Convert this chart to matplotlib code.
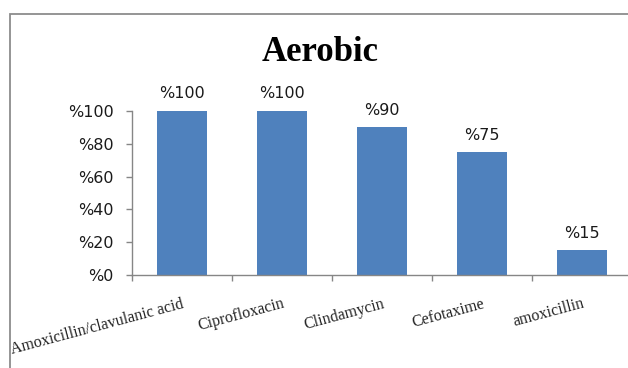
import matplotlib
matplotlib.use('Agg')
import matplotlib.pyplot as plt
from matplotlib.patches import Rectangle

# Aerobic sensitivity per antibiotic (%)
drugs = ['Amoxicillin/clavulanic acid', 'Ciprofloxacin', 'Clindamycin', 'Cefotaxime', 'amoxicillin']
percent = [100, 100, 90, 75, 15]
y_ticks = [0, 20, 40, 60, 80, 100]

BAR_COLOR = '#4F81BD'
AXIS_COLOR = '#868686'

fig = plt.figure(figsize=(6.28, 3.68), dpi=100)

# Outer chart frame (runs off the right and bottom edges)
fig.patches.append(Rectangle((9.5 / 628, -0.1), 1.2, (368 - 14) / 368 + 0.1,
                             transform=fig.transFigure, fill=False,
                             edgecolor='#8c8c8c', linewidth=1.3))

ax = fig.add_axes([131.7 / 628, 93 / 368, 500 / 628, 164 / 368])

x = list(range(len(drugs)))
ax.bar(x, percent, width=0.5, color=BAR_COLOR, zorder=2)

ax.set_xlim(-0.5, len(drugs) - 0.5)
ax.set_ylim(0, 100)

# Value labels above the bars
for xi, v in zip(x, percent):
    ax.annotate(f'%{v}', (xi, v), xytext=(0, 9), textcoords='offset points',
                ha='center', va='baseline', fontsize=11.5, family='DejaVu Sans',
                color='#1a1a1a')

# Y axis
ax.set_yticks(y_ticks)
ax.set_yticklabels([f'%{t}' for t in y_ticks], family='DejaVu Sans', fontsize=11.5,
                   color='#1a1a1a')
ax.tick_params(axis='y', length=4, width=1, color=AXIS_COLOR, pad=9)

# X axis: boundary ticks, labels at bar centres
ax.set_xticks([i - 0.5 for i in range(len(drugs) + 1)], minor=True)
ax.set_xticks(x)
ax.set_xticklabels(drugs, rotation=15, ha='right', rotation_mode='anchor',
                   family='Liberation Serif', fontsize=11.5, color='#222222')
ax.tick_params(axis='x', which='major', length=0, pad=15)
ax.tick_params(axis='x', which='minor', length=4, width=1, color=AXIS_COLOR)

for side in ['top', 'right']:
    ax.spines[side].set_visible(False)
for side in ['left', 'bottom']:
    ax.spines[side].set_color(AXIS_COLOR)
    ax.spines[side].set_linewidth(1)

fig.text(320.5 / 628, (368 - 60.7) / 368, 'Aerobic', ha='center', va='baseline',
         family='Liberation Serif', fontweight='bold', fontsize=25)

fig.savefig('out.png', dpi=100)
